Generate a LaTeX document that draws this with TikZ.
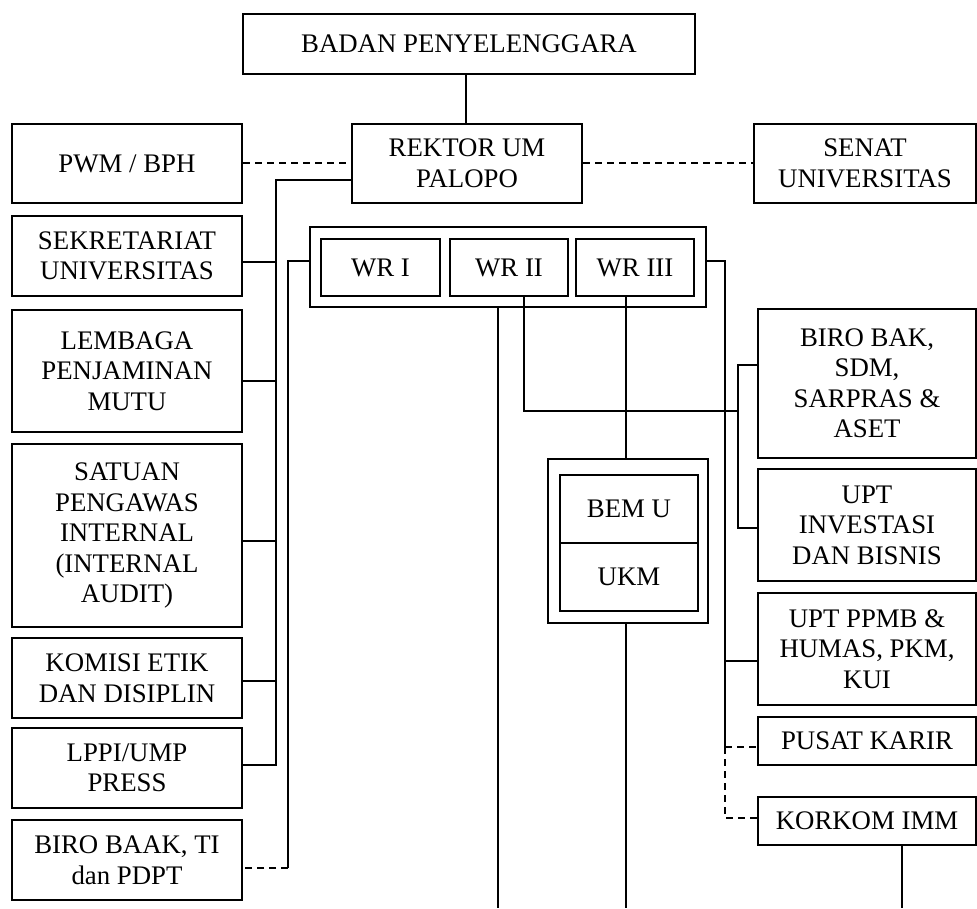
\documentclass[tikz,border=0pt]{standalone}
\usepackage{fontspec}
\setmainfont{Liberation Serif}
\newcommand\bx[6]{\node[box, minimum width={#4-#2}, minimum height={#5-#3}] (#1) at ({(#2+#4)/2},{(#3+#5)/2}) {#6};}
\begin{document}
\begin{tikzpicture}[x=1pt,y=-1pt,
  box/.style={draw, line width=2pt, align=center, inner sep=0pt, font=\fontsize{26.8}{30.5}\selectfont},
  conn/.style={line width=1.3pt},
  dsh/.style={conn, dash pattern=on 7pt off 5pt}]
\useasboundingbox[fill=white] (0,0) rectangle (977,908);
% top
\bx{bp}{243}{14}{695}{74}{BADAN PENYELENGGARA}
\bx{rek}{352}{124}{582}{203}{REKTOR UM\\PALOPO}
\bx{pwm}{12}{124}{242}{203}{PWM / BPH}
\bx{sen}{754}{124}{976}{203}{SENAT\\UNIVERSITAS}
% left column
\bx{sek}{12}{216}{242}{296}{SEKRETARIAT\\UNIVERSITAS}
\bx{lpm}{12}{310}{242}{432}{LEMBAGA\\PENJAMINAN\\MUTU}
\bx{spi}{12}{444}{242}{627}{SATUAN\\PENGAWAS\\INTERNAL\\(INTERNAL\\AUDIT)}
\bx{kom}{12}{638}{242}{718}{KOMISI ETIK\\DAN DISIPLIN}
\bx{lppi}{12}{728}{242}{808}{LPPI/UMP\\PRESS}
\bx{biro}{12}{820}{242}{900}{BIRO BAAK, TI\\dan PDPT}
% WR group
\bx{wro}{310}{227}{706}{307}{}
\bx{wr1}{321}{239}{440}{296}{WR I}
\bx{wr2}{450}{239}{568}{296}{WR II}
\bx{wr3}{576}{239}{694}{296}{WR III}
% BEM / UKM
\bx{bemo}{548}{459}{708}{623}{}
\bx{bem}{560}{475}{698}{543}{BEM U}
\bx{ukm}{560}{543}{698}{611}{UKM}
% right column
\bx{bak}{758}{309}{976}{458}{BIRO BAK,\\SDM,\\SARPRAS \&\\ASET}
\bx{inv}{758}{469}{976}{581}{UPT\\INVESTASI\\DAN BISNIS}
\bx{ppmb}{758}{593}{976}{705}{UPT PPMB \&\\HUMAS, PKM,\\KUI}
\bx{kar}{758}{717}{976}{765}{PUSAT KARIR}
\bx{kor}{758}{797}{976}{845}{KORKOM IMM}
% connectors
\draw[conn] (rek.north -| 466,0) -- (bp.south -| 466,0);
\draw[dsh] (pwm.east |- 0,163) -- (rek.west |- 0,163);
\draw[dsh] (rek.east |- 0,163) -- (sen.west |- 0,163);
\draw[conn] (rek.west |- 0,180) -| (276,765) -- (lppi.east |- 0,765);
\foreach \n/\y in {sek/262, lpm/381, spi/541, kom/681}
  \draw[conn] (\n.east |- 0,\y) -- (276,\y);
\draw[conn] (wro.west |- 0,261) -| (288,868);
\draw[dsh] (288,868) -- (biro.east |- 0,868);
\draw[conn] (wro.east |- 0,261) -| (725,747);
\draw[conn] (725,661) -- (ppmb.west |- 0,661);
\draw[dsh] (725,747) -- (kar.west |- 0,747);
\draw[dsh] (725,747) -- (725,818) -- (kor.west |- 0,818);
\draw[conn] (wr2.south -| 524,0) |- (738,411);
\draw[conn] (bak.west |- 0,365) -| (738,528) -- (inv.west |- 0,528);
\draw[conn] (wr3.south -| 626,0) -- (bemo.north -| 626,0);
\draw[conn] (bemo.south -| 626,0) -- (626,908);
\draw[conn] (wro.south -| 498,0) -- (498,908);
\draw[conn] (kor.south -| 902,0) -- (902,908);
\end{tikzpicture}
\end{document}
